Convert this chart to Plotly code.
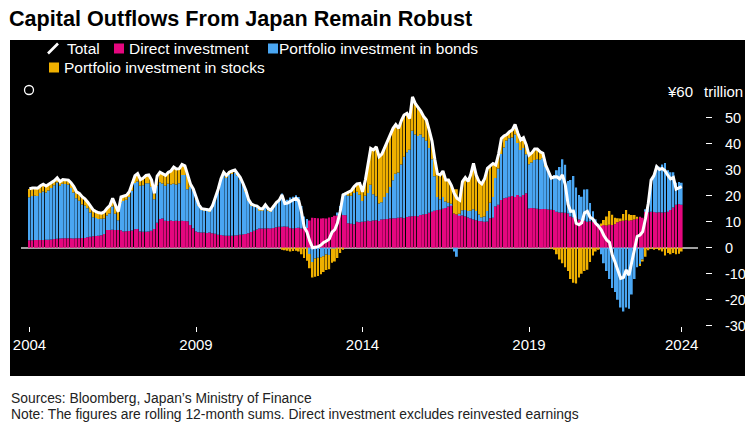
import numpy as np
import pandas as pd
import plotly.graph_objects as go

# ---------------- data (rolling 12-month sums, ¥ trillion) ----------------
months = pd.date_range("2004-12-01", periods=236, freq="MS")

direct = [
    2.9, 2.9, 3.0, 3.0, 3.0, 3.0, 3.1, 3.1, 3.2, 3.3, 3.4, 3.5,
    3.6, 3.6, 3.6, 3.6, 3.5, 3.6, 3.6, 3.7, 3.7, 4.0, 4.2, 4.4,
    4.5, 4.6, 4.8, 5.3, 6.8, 6.8, 6.9, 6.8, 6.8, 6.7, 6.2, 6.3,
    6.4, 6.6, 7.1, 7.2, 6.2, 6.1, 6.1, 6.2, 6.5, 7.2, 9.6, 11.0,
    11.2, 10.4, 10.3, 10.5, 10.3, 10.4, 10.3, 10.4, 10.3, 10.2, 8.7, 7.5,
    6.2, 5.9, 5.8, 5.8, 5.7, 5.8, 5.6, 5.4, 5.0, 4.9, 4.7, 4.6,
    4.6, 4.6, 4.7, 4.8, 5.0, 5.1, 5.3, 5.6, 6.0, 6.5, 7.0, 7.4,
    7.4, 7.4, 7.5, 7.4, 7.6, 7.9, 8.1, 8.1, 8.2, 8.1, 7.6, 7.4,
    7.6, 7.7, 7.4, 7.5, 7.6, 10.5, 11.5, 11.4, 11.3, 11.2, 11.3, 11.2,
    11.6, 11.8, 12.3, 12.4, 12.6, 12.6, 12.5, 9.4, 9.2, 9.0, 10.0, 9.8,
    10.0, 10.1, 10.4, 10.2, 10.5, 10.6, 10.3, 10.8, 10.9, 11.0, 11.2, 11.3,
    11.3, 11.5, 11.6, 11.3, 11.8, 12.0, 12.1, 12.2, 12.0, 12.6, 12.8, 13.0,
    13.4, 13.8, 14.2, 14.5, 14.6, 15.0, 15.3, 15.8, 16.4, 13.2, 12.8, 12.6,
    12.4, 12.0, 11.6, 11.2, 10.8, 10.6, 10.3, 10.2, 10.0, 10.1, 11.3, 11.5,
    15.8, 16.5, 18.3, 19.0, 19.2, 19.6, 19.9, 19.5, 20.3, 19.6, 20.3, 20.9,
    15.1, 15.3, 15.2, 15.0, 14.8, 14.9, 14.9, 14.7, 14.6, 14.5, 13.8, 13.5,
    13.5, 13.4, 13.2, 12.0, 11.6, 11.2, 10.8, 10.6, 10.4, 10.0, 10.2, 10.0,
    9.4, 8.6, 8.3, 8.7, 8.5, 8.8, 8.7, 9.0, 9.8, 10.2, 10.4, 10.6,
    10.4, 10.6, 10.8, 11.3, 11.9, 11.5, 13.8, 13.6, 13.8, 13.7, 13.5, 13.6,
    13.5, 13.6, 13.8, 14.5, 15.5, 16.5, 16.8, 16.5,
]

bonds = [
    16.5, 17.0, 17.0, 16.9, 18.0, 18.6, 18.1, 18.9, 19.8, 20.7, 21.7, 20.3,
    21.0, 20.9, 20.6, 19.4, 17.7, 15.4, 14.5, 12.9, 12.5, 11.2, 9.3, 7.3,
    6.9, 6.4, 6.3, 5.9, 5.6, 6.4, 8.9, 6.3, 3.8, 10.6, 11.8, 12.1,
    13.1, 15.3, 17.8, 18.3, 17.6, 17.9, 18.7, 18.6, 16.9, 11.4, 14.3, 14.2,
    13.5, 13.4, 14.3, 13.8, 14.3, 13.9, 14.5, 17.6, 17.7, 12.3, 14.6, 14.3,
    12.6, 10.3, 9.0, 8.8, 8.7, 8.4, 10.4, 13.3, 17.0, 20.8, 23.3, 22.2,
    23.4, 23.7, 24.2, 22.9, 21.4, 19.1, 16.3, 12.6, 10.3, 9.4, 8.5, 7.1,
    6.9, 8.3, 6.8, 6.5, 7.9, 9.2, 10.0, 12.7, 9.8, 10.3, 11.7, 12.2,
    12.6, 11.8, 8.6, 4.5, 3.4, -2.4, -5.5, -4.2, -3.9, -3.7, -3.3, -2.6,
    -2.8, -0.3, -0.3, 1.1, 3.4, 8.2, 7.9, 10.6, 10.8, 12.0, 11.5, 10.6,
    8.0, 9.9, 10.6, 14.0, 10.1, 9.2, 6.7, 6.7, 8.6, 10.0, 12.1, 14.6,
    17.1, 17.4, 20.4, 23.7, 24.9, 25.7, 32.9, 31.3, 31.0, 30.9, 29.7, 28.1,
    24.9, 20.2, 13.3, 5.0, 4.0, 4.5, 2.5, 1.5, 0.5, -1.5, -3.5, 0.5,
    2.0, 2.5, 2.5, 3.0, 4.0, 3.5, 2.5, 1.5, 2.0, 4.0, 6.0, 8.0,
    11.0, 14.0, 17.7, 19.5, 22.0, 22.5, 22.5, 24.0, 20.0, 18.0, 18.0, 15.0,
    17.0, 17.5, 18.5, 19.0, 19.0, 19.5, 16.5, 14.5, 12.5, 13.5, 16.0, 17.5,
    20.5, 18.5, 12.5, 14.0, 16.0, 12.0, 9.5, 9.0, 12.0, 12.5, 7.0, 4.0,
    1.5, 0.5, -2.5, -6.0, -9.0, -12.0, -15.5, -17.0, -20.0, -23.0, -24.5, -23.0,
    -23.5, -18.0, -12.0, -7.5, -6.5, -4.5, 1.0, 4.5, 12.5, 14.5, 18.0, 17.5,
    18.5, 19.0, 16.0, 14.5, 13.5, 8.5, 8.5, 8.5,
]

stocks = [
    3.2, 3.1, 3.0, 3.0, 2.8, 2.8, 2.5, 2.3, 2.0, 1.8, 1.8, 1.6,
    1.6, 1.5, 1.8, 2.0, 2.3, 2.5, 2.8, 3.0, 2.6, 2.3, 2.5, 2.8,
    2.5, 2.4, 2.2, 2.6, 2.8, 3.0, 3.2, 3.4, 3.2, 2.2, 2.0, 1.8,
    2.0, 2.6, 2.8, 3.0, 2.4, 2.8, 3.0, 3.2, 2.6, 2.3, 3.6, 3.8,
    3.8, 4.0, 4.4, 5.2, 6.4, 6.0, 5.6, 4.0, 3.5, 5.5, 1.2, 0.8,
    0.5, 0.3, 0.2, 0.2, 0.3, 0.3, 0.2, 0.3, 0.5, 0.8, 1.0, 1.0,
    1.0, 1.2, 1.0, 0.8, 0.6, 0.5, 0.4, 0.3, 0.5, 0.4, 0.5, 0.6,
    0.6, 0.8, 0.7, 0.6, 0.5, 0.3, 0.2, -0.5, -1.0, -1.2, -1.5, -1.3,
    -1.2, -1.5, -2.5, -4.0, -5.0, -5.5, -6.0, -7.0, -7.0, -6.5, -6.0, -6.0,
    -5.5, -5.5, -5.0, -4.0, -2.0, -0.5, 0.5, 1.5, 2.0, 2.5, 3.0, 4.3,
    3.5, 6.0, 12.0, 14.0, 17.0, 19.0, 18.0, 18.5, 19.0, 20.0, 20.0, 20.0,
    19.0, 17.0, 17.0, 16.0, 15.0, 12.0, 13.0, 12.0, 11.0, 9.0, 8.0, 8.0,
    7.0, 7.0, 6.5, 9.0, 9.4, 10.0, 8.2, 8.7, 7.1, 9.3, 9.7, 5.2,
    11.0, 12.5, 11.4, 13.8, 17.6, 13.8, 12.6, 12.8, 14.5, 16.4, 14.2, 12.9,
    5.0, 5.5, 6.0, 4.5, 2.3, 2.5, 2.9, 3.9, 3.7, 3.9, 4.0, 3.6,
    3.5, 3.7, 4.3, 4.0, 3.1, 1.9, 0.4, 0.0, -0.3, -0.8, -2.5, -4.5,
    -6.0, -7.5, -9.0, -12.0, -13.5, -13.8, -11.5, -10.0, -9.0, -8.5, -5.5, -3.0,
    -1.5, -0.8, 1.0, 2.0, 3.5, 5.3, 4.0, 2.5, 1.5, 1.0, 2.6, 3.9,
    2.5, 2.0, 1.8, 0.5, -0.5, -0.8, -3.5, -1.0, -0.3, -0.5, -0.3, -1.0,
    -1.5, -3.0, -2.0, -2.5, -2.0, -2.5, -2.3, -1.5,
]

tick_index = [0, 60, 120, 180, 235]
tick_labels = ["2004", "2009", "2014", "2019", "2024"]
y_ticks = [-30, -20, -10, 0, 10, 20, 30, 40, 50]

total = np.array(direct) + np.array(bonds) + np.array(stocks)

# ---------------- styling ----------------
W, H = 753, 434
MAGENTA = "#e5077f"
BLUE = "#4aa6f2"
YELLOW = "#efb000"
FONT = "Liberation Sans, Arial, Helvetica, sans-serif"


def px(x):
    return x / W


def py(y):
    return 1 - y / H


fig = go.Figure()
bar_w = 20 * 86400000
for vals, col, name in [(direct, MAGENTA, "Direct investment"),
                        (bonds, BLUE, "Portfolio investment in bonds"),
                        (stocks, YELLOW, "Portfolio investment in stocks")]:
    fig.add_bar(x=months, y=vals, name=name, marker_color=col,
                marker_line_width=0, width=bar_w)
fig.add_scatter(x=months, y=total, mode="lines", name="Total",
                line=dict(color="white", width=3))

fig.update_layout(
    width=W, height=H, autosize=False, barmode="relative", showlegend=False,
    margin=dict(l=0, r=0, t=0, b=0, pad=0),
    paper_bgcolor="white", plot_bgcolor="black",
    font=dict(family=FONT, color="white", size=15),
)

x0 = months[0] - pd.Timedelta(days=93)
x1 = months[-1] + pd.Timedelta(days=179)
fig.update_xaxes(
    domain=[px(21), px(698)], range=[x0, x1], automargin=False,
    tickvals=[months[i] for i in tick_index], ticktext=tick_labels,
    ticks="outside", ticklen=5, tickwidth=1, tickcolor="white",
    tickfont=dict(color="white", size=15, family=FONT),
    showgrid=False, zeroline=False, showline=False,
)
fig.update_yaxes(
    domain=[py(325.7), py(91.7)], range=[-30, 60], automargin=False,
    side="right", anchor="free", position=px(705),
    tickvals=y_ticks, ticktext=[str(v) for v in y_ticks],
    ticks="outside", ticklen=6, tickwidth=1, tickcolor="white",
    tickfont=dict(color="white", size=14.5, family=FONT),
    ticklabelstandoff=10,
    showgrid=False, showline=False,
    zeroline=True, zerolinecolor="#a0a0a0", zerolinewidth=1.5,
)

shapes = [
    dict(type="rect", xref="paper", yref="paper", x0=px(10), x1=px(745),
         y0=py(376), y1=py(40), fillcolor="black", line_width=0, layer="below"),
    dict(type="circle", xref="paper", yref="paper", x0=px(24.5), x1=px(33.5),
         y0=py(94.5), y1=py(85.5), line=dict(color="white", width=1.3)),
    dict(type="line", xref="paper", yref="paper", x0=px(48), x1=px(58),
         y0=py(53.5), y1=py(43.5), line=dict(color="white", width=2.6)),
]
for (sx, sy, col) in [(114, 48.5, MAGENTA), (268, 48.5, BLUE), (49, 67.5, YELLOW)]:
    shapes.append(dict(type="rect", xref="paper", yref="paper",
                       x0=px(sx), x1=px(sx + 10), y0=py(sy + 5), y1=py(sy - 5),
                       fillcolor=col, line_width=0))
fig.update_layout(shapes=shapes)

ann = []


def text(x, y, s, size=15.5, color="white", anchor="left"):
    ann.append(dict(xref="paper", yref="paper", x=px(x), y=py(y), text=s,
                    showarrow=False, xanchor=anchor, yanchor="middle",
                    borderpad=0, borderwidth=0,
                    font=dict(size=size, color=color, family=FONT)))


text(9, 19, "<b>Capital Outflows From Japan Remain Robust</b>", size=21.6, color="black")
text(67, 48.5, "Total")
text(129, 48.5, "Direct investment")
text(279, 48.5, "Portfolio investment in bonds")
text(64, 67.5, "Portfolio investment in stocks")
text(693, 92, "¥60", size=15, anchor="right")
text(704, 92, "trillion", size=15)
text(11, 398, "Sources: Bloomberg, Japan’s Ministry of Finance", size=13.85, color="#222222")
text(11, 414, "Note: The figures are rolling 12-month sums. Direct investment excludes reinvested earnings",
     size=13.85, color="#222222")
fig.update_layout(annotations=ann)

fig.write_html(
    "out.html",
    config={"displayModeBar": False},
    post_script="document.body.style.margin='0';document.body.style.overflow='hidden';",
)
